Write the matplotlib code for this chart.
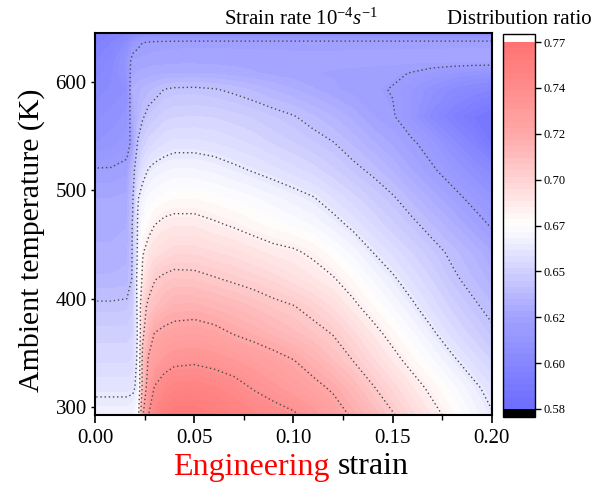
import numpy as np
import matplotlib
matplotlib.use('Agg')
import matplotlib.pyplot as plt
from matplotlib.colors import LinearSegmentedColormap
from matplotlib.ticker import AutoMinorLocator

plt.rcParams['font.family'] = 'Liberation Serif'
plt.rcParams['mathtext.fontset'] = 'custom'
plt.rcParams['mathtext.rm'] = 'Liberation Serif'
plt.rcParams['mathtext.it'] = 'Liberation Serif:italic'

# grid: columns = engineering strain, rows = ambient temperature (K)
strain = [0.0, 0.008, 0.016, 0.019, 0.0215, 0.024, 0.027, 0.03, 0.035, 0.04,
          0.05, 0.06, 0.07, 0.08, 0.09, 0.10, 0.11, 0.12, 0.13, 0.14,
          0.15, 0.16, 0.17, 0.18, 0.19, 0.20]
temperature = [293, 318, 343, 368, 393, 418, 443, 468, 493, 518, 543, 568,
               593, 608, 620, 636, 645]
ratio = [
    [0.664, 0.664, 0.664, 0.665, 0.672, 0.718, 0.740, 0.750, 0.757, 0.761, 0.761, 0.758, 0.754, 0.750, 0.746, 0.742, 0.735, 0.727, 0.718, 0.710, 0.701, 0.692, 0.684, 0.676, 0.668, 0.661],
    [0.658, 0.658, 0.658, 0.6585, 0.662, 0.705, 0.730, 0.741, 0.747, 0.751, 0.752, 0.749, 0.745, 0.739, 0.734, 0.729, 0.724, 0.718, 0.710, 0.701, 0.693, 0.685, 0.677, 0.670, 0.663, 0.656],
    [0.652, 0.652, 0.652, 0.653, 0.662, 0.705, 0.722, 0.728, 0.734, 0.737, 0.738, 0.736, 0.733, 0.729, 0.725, 0.7205, 0.714, 0.707, 0.700, 0.692, 0.684, 0.676, 0.669, 0.662, 0.655, 0.649],
    [0.648, 0.648, 0.648, 0.649, 0.661, 0.697, 0.712, 0.7205, 0.7235, 0.725, 0.726, 0.724, 0.7195, 0.716, 0.712, 0.708, 0.704, 0.6995, 0.692, 0.684, 0.676, 0.669, 0.6615, 0.654, 0.648, 0.642],
    [0.6415, 0.6415, 0.642, 0.645, 0.663, 0.694, 0.7035, 0.706, 0.711, 0.714, 0.7145, 0.712, 0.7095, 0.7065, 0.703, 0.7005, 0.696, 0.690, 0.6825, 0.675, 0.6685, 0.6615, 0.6545, 0.648, 0.642, 0.637],
    [0.634, 0.634, 0.635, 0.641, 0.665, 0.683, 0.693, 0.6995, 0.7025, 0.704, 0.7035, 0.701, 0.6985, 0.696, 0.693, 0.689, 0.685, 0.681, 0.6745, 0.668, 0.6615, 0.655, 0.649, 0.642, 0.637, 0.632],
    [0.631, 0.631, 0.632, 0.641, 0.662, 0.679, 0.685, 0.688, 0.691, 0.693, 0.693, 0.691, 0.689, 0.686, 0.683, 0.6815, 0.678, 0.6725, 0.667, 0.660, 0.6545, 0.649, 0.6435, 0.638, 0.633, 0.627],
    [0.629, 0.629, 0.630, 0.641, 0.661, 0.670, 0.676, 0.680, 0.683, 0.684, 0.684, 0.6815, 0.679, 0.676, 0.6735, 0.671, 0.668, 0.6635, 0.658, 0.6525, 0.647, 0.642, 0.6365, 0.631, 0.625, 0.619],
    [0.627, 0.627, 0.628, 0.639, 0.659, 0.665, 0.669, 0.671, 0.673, 0.6745, 0.6745, 0.673, 0.671, 0.669, 0.666, 0.6635, 0.6605, 0.6555, 0.6505, 0.6455, 0.641, 0.635, 0.629, 0.6235, 0.6175, 0.612],
    [0.621, 0.621, 0.623, 0.636, 0.648, 0.656, 0.661, 0.663, 0.665, 0.666, 0.666, 0.6645, 0.662, 0.6595, 0.657, 0.654, 0.651, 0.647, 0.6425, 0.6385, 0.633, 0.627, 0.6215, 0.6155, 0.609, 0.603],
    [0.611, 0.613, 0.616, 0.6235, 0.641, 0.647, 0.651, 0.653, 0.6555, 0.657, 0.657, 0.656, 0.654, 0.652, 0.649, 0.6465, 0.6435, 0.6405, 0.636, 0.631, 0.6265, 0.6215, 0.6155, 0.607, 0.598, 0.588],
    [0.607, 0.609, 0.612, 0.627, 0.634, 0.639, 0.643, 0.645, 0.648, 0.649, 0.6495, 0.649, 0.6475, 0.6455, 0.643, 0.6405, 0.637, 0.6335, 0.629, 0.624, 0.621, 0.613, 0.603, 0.595, 0.589, 0.585],
    [0.603, 0.605, 0.608, 0.6305, 0.6325, 0.634, 0.6355, 0.637, 0.6402, 0.6412, 0.6415, 0.6405, 0.6385, 0.636, 0.633, 0.6305, 0.6275, 0.6245, 0.6225, 0.6215, 0.6195, 0.614, 0.609, 0.604, 0.601, 0.598],
    [0.600, 0.604, 0.612, 0.626, 0.6275, 0.628, 0.6285, 0.629, 0.6295, 0.630, 0.6302, 0.6298, 0.6288, 0.6275, 0.626, 0.625, 0.624, 0.6235, 0.623, 0.6225, 0.6215, 0.6195, 0.6165, 0.614, 0.612, 0.611],
    [0.598, 0.602, 0.612, 0.624, 0.6245, 0.625, 0.6252, 0.6255, 0.6257, 0.6258, 0.6258, 0.6256, 0.6254, 0.6252, 0.625, 0.6248, 0.6248, 0.6248, 0.6249, 0.625, 0.6251, 0.6252, 0.6253, 0.6255, 0.6255, 0.6255],
    [0.594, 0.598, 0.606, 0.6135, 0.6175, 0.620, 0.6212, 0.622, 0.6224, 0.6227, 0.623, 0.623, 0.623, 0.623, 0.623, 0.623, 0.623, 0.623, 0.623, 0.623, 0.623, 0.623, 0.623, 0.623, 0.623, 0.623],
    [0.592, 0.594, 0.598, 0.601, 0.603, 0.604, 0.605, 0.605, 0.605, 0.605, 0.605, 0.605, 0.605, 0.605, 0.605, 0.605, 0.605, 0.605, 0.605, 0.605, 0.605, 0.605, 0.605, 0.605, 0.605, 0.605],
]

line_levels = [0.62, 0.64, 0.66, 0.68, 0.70, 0.72, 0.74]
cbar_labels = ['0.58', '0.60', '0.62', '0.65', '0.67', '0.70', '0.72', '0.74', '0.77']
xtick_values = [0.0, 0.05, 0.10, 0.15, 0.20]
ytick_values = [300, 400, 500, 600]

vmin, vmax = 0.576, 0.7675

cmap = LinearSegmentedColormap.from_list('ratio', [
    (0.0, '#6c6cff'), (0.25, '#a2a2ff'), (0.5, '#ffffff'),
    (0.75, '#ffa8a8'), (1.0, '#ff7272')])
cmap.set_over('white')
cmap.set_under('black')

fig = plt.figure(figsize=(5.94, 5.0), dpi=100)
ax = fig.add_axes([0.160, 0.170, 0.668, 0.764])
cax = fig.add_axes([0.847, 0.166, 0.054, 0.766])

cf = ax.contourf(strain, temperature, ratio, levels=np.linspace(vmin, vmax, 61),
                 cmap=cmap, extend='both')
cs = ax.contour(strain, temperature, ratio, levels=line_levels,
                colors='#4a4a4a', linewidths=1.0, linestyles='dotted')
cs.set_linestyle((0, (1, 2)))

ax.set_xlim(strain[0], strain[-1])
ax.set_ylim(temperature[0], temperature[-1])
ax.set_xticks(xtick_values)
ax.set_xticklabels([f'{v:.2f}' for v in xtick_values])
ax.xaxis.set_minor_locator(AutoMinorLocator(2))
ax.set_yticks(ytick_values)
ax.tick_params(axis='x', which='major', direction='out', length=6, width=1.2, labelsize=15, pad=4)
ax.tick_params(axis='x', which='minor', direction='out', length=3.5, width=1.0)
ax.tick_params(axis='y', which='major', direction='out', length=3, width=1.0, labelsize=15, pad=3)
for sp in ax.spines.values():
    sp.set_linewidth(1.5)

ax.set_ylabel('Ambient temperature (K)', fontsize=21.5)
ax.yaxis.set_label_coords(-0.126, 0.458)

fig.text(330 / 594, 1 - 467 / 500, 'Engineering', color='red', fontsize=23,
         ha='right', va='center')
fig.text(338 / 594, 1 - 467 / 500, 'strain', color='black', fontsize=23,
         ha='left', va='center')

fig.text(301 / 594, 1 - 25 / 500, 'Strain rate $10^{-4}s^{-1}$', fontsize=15,
         ha='center', va='baseline')

cb = fig.colorbar(cf, cax=cax, extendrect=True, extendfrac=0.022,
                  ticks=np.linspace(vmin, vmax, 9))
cb.ax.set_yticklabels(cbar_labels)
cb.outline.set_linewidth(1.0)
cax.tick_params(direction='out', length=4, width=1.0, labelsize=9, pad=2)
cax.set_title('Distribution ratio', fontsize=15, pad=7)

fig.savefig('out.png', dpi=100)
